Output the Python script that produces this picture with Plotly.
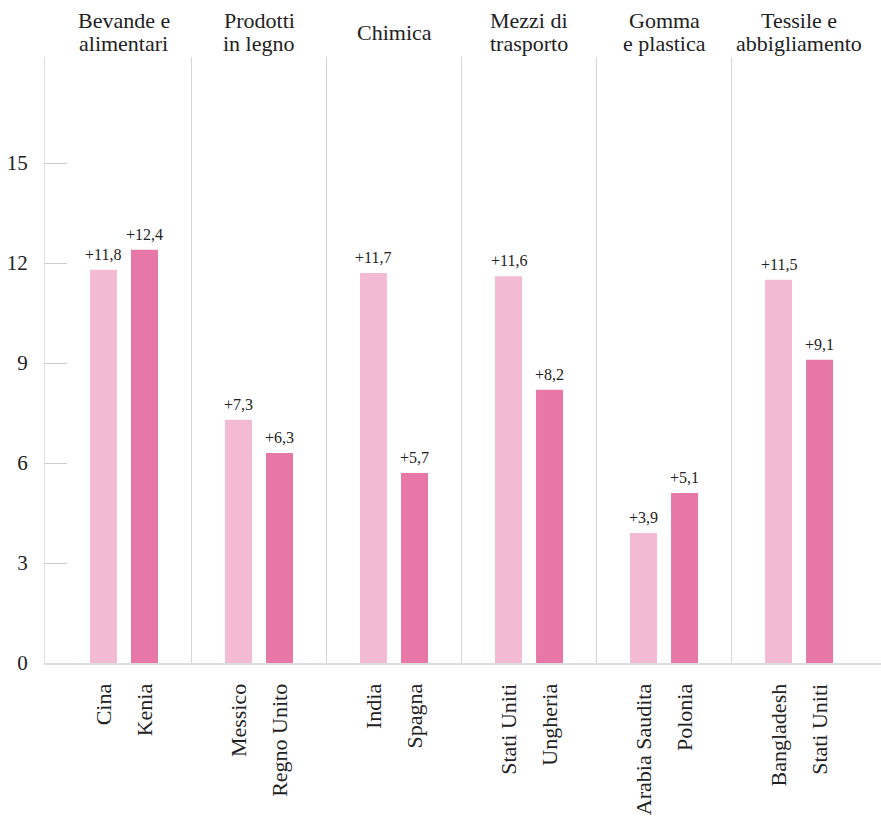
import plotly.graph_objects as go

sectors = ["Bevande e<br>alimentari", "Prodotti<br>in legno", "Chimica",
           "Mezzi di<br>trasporto", "Gomma<br>e plastica", "Tessile e<br>abbigliamento"]
first_country = ["Cina", "Messico", "India", "Stati Uniti", "Arabia Saudita", "Bangladesh"]
second_country = ["Kenia", "Regno Unito", "Spagna", "Ungheria", "Polonia", "Stati Uniti"]
first_values = [11.8, 7.3, 11.7, 11.6, 3.9, 11.5]
second_values = [12.4, 6.3, 5.7, 8.2, 5.1, 9.1]
y_ticks = [0, 3, 6, 9, 12, 15]

FONT = "Palatino Linotype, Book Antiqua, Palatino, Liberation Serif, serif"
LIGHT = "#F2BAD3"
DARK = "#E777A7"
OFF = 0.152
W = 0.2

idx = list(range(len(sectors)))
x1 = [i - OFF for i in idx]
x2 = [i + OFF for i in idx]

def fmt(v):
    return "+" + f"{v:.1f}".replace(".", ",")

fig = go.Figure()
fig.add_trace(go.Bar(x=x1, y=first_values, width=W, marker_color=LIGHT,
                     marker_line_width=0, showlegend=False, hoverinfo="skip"))
fig.add_trace(go.Bar(x=x2, y=second_values, width=W, marker_color=DARK,
                     marker_line_width=0, showlegend=False, hoverinfo="skip"))

ann = []
for xs, vals in ((x1, first_values), (x2, second_values)):
    for x, v in zip(xs, vals):
        ann.append(dict(x=x, y=v, xref="x", yref="paper" if False else "y", text=fmt(v),
                        showarrow=False, yanchor="bottom", yshift=5,
                        font=dict(size=16, color="#222")))
for i, s in enumerate(sectors):
    lines = s.split("<br>")
    if len(lines) == 1:
        shifts = [25]
    else:
        shifts = [37, 14]
    for line, sh in zip(lines, shifts):
        ann.append(dict(x=i, y=1, xref="x", yref="paper", text=line, showarrow=False,
                        yanchor="middle", yshift=sh, font=dict(size=22, color="#222")))

shapes = []
for i in range(len(sectors) - 1):
    shapes.append(dict(type="line", xref="x", yref="paper", x0=i + 0.5, x1=i + 0.5,
                       y0=0, y1=1, line=dict(color="#d4d4d4", width=1)))

tickvals = []
ticktext = []
for i in idx:
    tickvals += [x1[i], x2[i]]
    ticktext += [first_country[i], second_country[i]]

fig.update_layout(
    width=881, height=821,
    margin=dict(l=45, r=0, t=57, b=158),
    plot_bgcolor="white", paper_bgcolor="white",
    font=dict(family=FONT, color="#222"),
    barmode="overlay",
    annotations=ann, shapes=shapes,
    xaxis=dict(range=[-0.585, 5.607], tickvals=tickvals, ticktext=ticktext,
               tickangle=-90, ticks="", showgrid=False, zeroline=False,
               showline=True, linecolor="#dddddd", linewidth=2,
               tickfont=dict(size=22, color="#222"), ticklabelstandoff=10),
    yaxis=dict(range=[0, 18.18], tickvals=y_ticks, ticks="inside", ticklen=22,
               tickcolor="#cccccc", tickwidth=1, showgrid=False, zeroline=False,
               showline=True, linecolor="#dddddd", linewidth=1,
               tickfont=dict(size=21, color="#222"), ticklabelstandoff=12),
)
fig.write_html("out.html")
